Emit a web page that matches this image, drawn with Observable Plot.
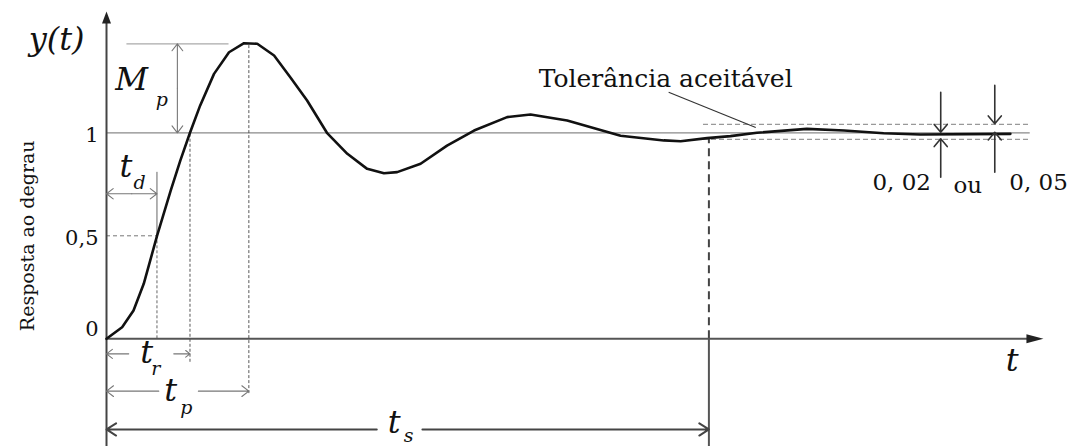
<!DOCTYPE html>
<html>
<head>
<meta charset="utf-8">
<script src="https://cdn.jsdelivr.net/npm/d3@7"></script>
<script src="https://cdn.jsdelivr.net/npm/@observablehq/plot@0.6"></script>
<style>
html, body { margin: 0; padding: 0; background: #fff; }
svg { display: block; }
#chart svg text { font-family: "DejaVu Serif", serif; }
</style>
</head>
<body>
<div id="chart"></div>
<script>
// ---- data ----
const time = [0, 0.26, 0.45, 0.62, 0.84, 1.07, 1.23, 1.39, 1.56, 1.79, 2.04, 2.29, 2.51, 2.79, 3.06, 3.34, 3.67, 4.01, 4.34, 4.62, 4.84, 5.23, 5.67, 6.12, 6.67, 7.06, 7.67, 8.56, 9.28, 9.56, 10.0, 10.39, 10.83, 11.66, 12.28, 12.94, 13.55, 15.05];
const response = [0, 0.056, 0.137, 0.267, 0.498, 0.72, 0.866, 1.0, 1.133, 1.286, 1.391, 1.435, 1.432, 1.375, 1.27, 1.157, 1.0, 0.898, 0.825, 0.804, 0.809, 0.85, 0.938, 1.011, 1.076, 1.089, 1.06, 0.986, 0.963, 0.959, 0.974, 0.984, 1.0, 1.019, 1.011, 0.998, 0.992, 0.995];
const tickValues = [0, 0.5, 1];
const tickLabels = ["0", "0,5", "1"];
const delayTime = 0.84;     // t_d
const riseTime = 1.39;      // t_r
const peakTime = 2.37;      // t_p
const settlingTime = 10.03; // t_s
const peakValue = 1.432;    // 1 + M_p
const bandValues = [0.968, 1.041];
const toleranceLabels = ["0, 02", "ou", "0, 05"];

// ---- tables built from the arrays ----
const curve = time.map((t, i) => ({t, y: response[i]}));
const xMin = -1.765, xMax = 16.134, yMin = -0.5228, yMax = 1.6422;

const arrowRight = {draw(ctx) { ctx.moveTo(0, 0); ctx.lineTo(-17, -4.5); ctx.lineTo(-17, 4.5); ctx.closePath(); }};
const arrowUp = {draw(ctx) { ctx.moveTo(0, 0); ctx.lineTo(-4.5, 12); ctx.lineTo(4.5, 12); ctx.closePath(); }};

const grayArrows = [
  {x1: 1.18, y1: (peakValue + 1) / 2, x2: 1.18, y2: peakValue},
  {x1: 1.18, y1: (peakValue + 1) / 2, x2: 1.18, y2: 1},
  {x1: delayTime / 2, y1: 0.704, x2: 0, y2: 0.704},
  {x1: delayTime / 2, y1: 0.704, x2: delayTime, y2: 0.704},
  {x1: 0.37, y1: -0.073, x2: 0, y2: -0.073},
  {x1: 1.12, y1: -0.073, x2: riseTime, y2: -0.073},
  {x1: 0.87, y1: -0.254, x2: 0, y2: -0.254},
  {x1: 1.53, y1: -0.254, x2: peakTime, y2: -0.254}
];
const settleArrows = [
  {x1: 4.5, y1: -0.44, x2: 0, y2: -0.44},
  {x1: 5.26, y1: -0.44, x2: settlingTime, y2: -0.44}
];
const toleranceArrows = [
  {x1: 13.89, y1: 1.197, x2: 13.89, y2: 1.003},
  {x1: 13.89, y1: 0.784, x2: 13.89, y2: 0.971},
  {x1: 14.79, y1: 1.23, x2: 14.79, y2: 1.044},
  {x1: 14.79, y1: 0.809, x2: 14.79, y2: 1.003}
];
const bigMath = [
  {x: -0.83, y: 1.453, s: "y(t)"},
  {x: 0.42, y: 1.257, s: "M"},
  {x: 0.325, y: 0.836, s: "t"},
  {x: 0.67, y: -0.066, s: "t"},
  {x: 1.07, y: -0.252, s: "t"},
  {x: 4.79, y: -0.409, s: "t"},
  {x: 15.08, y: -0.105, s: "t"}
];
const subMath = [
  {x: 0.92, y: 1.16, s: "p"},
  {x: 0.55, y: 0.759, s: "d"},
  {x: 0.82, y: -0.144, s: "r"},
  {x: 1.33, y: -0.336, s: "p"},
  {x: 5.03, y: -0.47, s: "s"}
];
const tolTexts = [
  {x: 13.24, y: 0.756, s: toleranceLabels[0]},
  {x: 14.34, y: 0.744, s: toleranceLabels[1]},
  {x: 15.52, y: 0.756, s: toleranceLabels[2]}
];
const ticks = tickValues.map((v, i) => ({v, s: tickLabels[i]}));

const serif = '"DejaVu Serif", serif';

const chart = Plot.plot({
  width: 1075,
  height: 446,
  marginLeft: 0, marginRight: 0, marginTop: 0, marginBottom: 0,
  x: {domain: [xMin, xMax], axis: null},
  y: {domain: [yMin, yMax], axis: null},
  style: {background: "white"},
  marks: [
    Plot.ruleY([1], {x1: 0, x2: 15.38, stroke: "#8a8a8a", strokeWidth: 1.2}),
    Plot.ruleY([peakValue], {x1: 0.34, x2: 2.04, stroke: "#aaa", strokeWidth: 1.3}),
    Plot.ruleY(bandValues, {x1: 9.94, x2: 15.38, stroke: "#999", strokeWidth: 1.2, strokeDasharray: "5,3"}),
    Plot.ruleY([0.5], {x1: 0, x2: delayTime, stroke: "#777", strokeWidth: 1, strokeDasharray: "4,3"}),
    Plot.ruleX([delayTime], {y1: 0.5, y2: 0.808, stroke: "#666", strokeWidth: 1}),
    Plot.ruleX([delayTime], {y1: 0, y2: 0.5, stroke: "#555", strokeWidth: 0.9, strokeDasharray: "3,2"}),
    Plot.ruleX([riseTime], {y1: -0.114, y2: 1, stroke: "#444", strokeWidth: 0.9, strokeDasharray: "3,2"}),
    Plot.ruleX([peakTime], {y1: -0.266, y2: peakValue, stroke: "#444", strokeWidth: 0.9, strokeDasharray: "3,2"}),
    Plot.ruleX([settlingTime], {y1: 0, y2: 0.975, stroke: "#444", strokeWidth: 2, strokeDasharray: "8,5"}),
    Plot.ruleX([settlingTime], {y1: yMin, y2: 0, stroke: "#555", strokeWidth: 2}),
    Plot.ruleX([0], {y1: yMin, y2: 1.55, stroke: "#444", strokeWidth: 2}),
    Plot.ruleY([0], {x1: 0, x2: 15.4, stroke: "#555", strokeWidth: 2}),
    Plot.dot([{x: 15.6, y: 0}], {x: "x", y: "y", symbol: arrowRight, fill: "#222", stroke: "none"}),
    Plot.dot([{x: 0, y: 1.589}], {x: "x", y: "y", symbol: arrowUp, fill: "#222", stroke: "none"}),
    Plot.line(curve, {x: "t", y: "y", stroke: "#111", strokeWidth: 2.6, curve: "linear"}),
    Plot.arrow(grayArrows, {x1: "x1", y1: "y1", x2: "x2", y2: "y2", stroke: "#777", strokeWidth: 1.1, headLength: 12, headAngle: 75}),
    Plot.arrow(settleArrows, {x1: "x1", y1: "y1", x2: "x2", y2: "y2", stroke: "#444", strokeWidth: 2, headLength: 8.5, headAngle: 65}),
    Plot.arrow(toleranceArrows, {x1: "x1", y1: "y1", x2: "x2", y2: "y2", stroke: "#333", strokeWidth: 1.6, headLength: 9.5, headAngle: 80}),
    Plot.link([{x1: 9.36, y1: 1.197, x2: 10.81, y2: 1.026}], {x1: "x1", y1: "y1", x2: "x2", y2: "y2", stroke: "#333", strokeWidth: 1.2}),
    Plot.text(["Resposta ao degrau"], {x: -1.315, y: 0.5, rotate: -90, fontFamily: serif, fontSize: 19, fill: "#111"}),
    Plot.text(ticks.filter(d => d.v !== 0), {x: 0, y: "v", text: "s", dx: -8, dy: 2, textAnchor: "end", fontFamily: serif, fontSize: 21, fill: "#111", ariaLabel: "num"}),
    Plot.text(ticks.filter(d => d.v === 0), {x: 0, y: "v", text: "s", dx: -8, dy: -10, textAnchor: "end", fontFamily: serif, fontSize: 21, fill: "#111", ariaLabel: "num"}),
    Plot.text(bigMath, {x: "x", y: "y", text: "s", fontFamily: serif, fontStyle: "italic", fontSize: 32, fill: "#111", ariaLabel: "math-big"}),
    Plot.text(subMath, {x: "x", y: "y", text: "s", fontFamily: serif, fontStyle: "italic", fontSize: 19, fill: "#111", ariaLabel: "math-small"}),
    Plot.text(tolTexts, {x: "x", y: "y", text: "s", fontFamily: serif, fontSize: 23, fill: "#111", ariaLabel: "num"}),
    Plot.text(["Tolerância aceitável"], {x: 9.31, y: 1.259, fontFamily: serif, fontSize: 25, fill: "#111", ariaLabel: "prose"})
  ]
});

const stretch = {"math-big": 1.35, "math-small": 1.2, "num": 1.25, "prose": 1.1};
for (const [label, s] of Object.entries(stretch)) {
  chart.querySelectorAll(`g[aria-label="${label}"] text`).forEach(t => {
    t.setAttribute("transform", (t.getAttribute("transform") || "") + ` scale(${s},1)`);
  });
}

document.getElementById("chart").appendChild(chart);
</script>
</body>
</html>
